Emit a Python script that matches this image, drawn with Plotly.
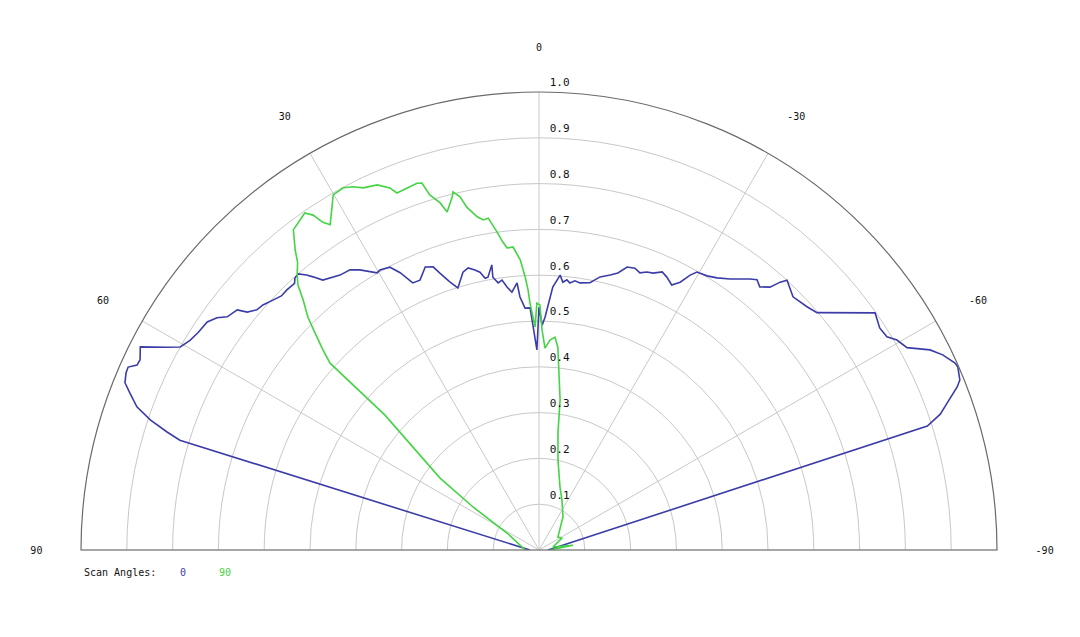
import plotly.graph_objects as go

# Scan angle 0 (blue)
theta_0 = [-90, -72.3, -71.3, -70.2, -68.7, -68.0, -66.4, -65.8, -64.2, -62.9, -61.2, -59.6, -58.5,
           -56.9, -54.8, -49.5, -47.7, -45.1, -42.6, -42.0, -41.3, -40.0, -38.9, -37.9, -35.2,
           -33.2, -31.5, -29.6, -28.8, -27.8, -26.6, -25.1, -23.9, -22.4, -21.2, -20.0, -18.8,
           -17.3, -15.9, -14.5, -12.6, -10.8, -8.7, -7.6, -6.6, -5.9, -5.1, -4.4, -3.0, -1.5,
           -0.8, 0.0, 0.6, 2.1, 3.3, 4.3, 4.7, 6.0, 6.9, 7.8, 8.7, 9.6, 9.4, 10.6, 11.2, 12.0,
           12.9, 14.1, 15.3, 17.2, 18.4, 19.7, 20.5, 21.9, 23.8, 25.3, 26.6, 27.8, 29.6, 30.3,
           32.6, 34.0, 35.9, 38.7, 39.6, 40.2, 41.1, 41.9, 42.5, 44.1, 45.4, 46.8, 48.4, 49.6,
           50.8, 51.5, 53.2, 54.2, 55.5, 57.5, 59.0, 60.5, 61.4, 63.0, 64.5, 65.3, 66.0, 66.8,
           68.0, 69.0, 70.4, 71.5, 72.4, 73.0, 90]
r_0 = [0.02, 0.89, 0.925, 0.947, 0.980, 0.991, 0.998, 0.996, 0.979, 0.959, 0.917, 0.906, 0.891,
       0.888, 0.898, 0.798, 0.790, 0.783, 0.800, 0.787, 0.764, 0.750, 0.758, 0.750, 0.724,
       0.710, 0.702, 0.698, 0.685, 0.661, 0.647, 0.658, 0.664, 0.654, 0.651, 0.644, 0.650,
       0.647, 0.629, 0.620, 0.611, 0.594, 0.590, 0.593, 0.587, 0.593, 0.587, 0.602, 0.575, 0.509,
       0.491, 0.530, 0.437, 0.529, 0.529, 0.554, 0.585, 0.566, 0.578, 0.595, 0.590, 0.604, 0.631,
       0.606, 0.605, 0.620, 0.627, 0.635, 0.629, 0.599, 0.617, 0.642, 0.660, 0.666, 0.644, 0.645,
       0.677, 0.698, 0.703, 0.701, 0.726, 0.738, 0.741, 0.755, 0.774, 0.786, 0.800, 0.798, 0.790,
       0.791, 0.790, 0.797, 0.806, 0.809, 0.822, 0.842, 0.850, 0.867, 0.879, 0.883, 0.889, 0.900,
       0.925, 0.977, 0.965, 0.966, 0.982, 0.981, 0.975, 0.957, 0.932, 0.895, 0.852, 0.820, 0.02]

# Scan angle 90 (green)
theta_90 = [90, 62.0, 56.9, 54.0, 48.8, 48.2, 47.2, 45.9, 44.8, 43.3, 42.3, 41.3, 40.0, 39.1, 37.5,
            34.8, 34.0, 33.4, 32.7, 31.1, 30.1, 28.4, 27.1, 25.9, 23.9, 22.4, 21.7, 20.0, 18.4,
            17.7, 17.1, 15.9, 15.2, 13.8, 13.5, 12.6, 11.9, 10.5, 9.6, 8.7, 7.5, 6.7, 6.0, 4.9,
            3.7, 2.9, 2.4, 2.1, 1.0, 0.5, -0.2, -0.8, -1.7, -3.0, -4.3, -5.3, -8.0, -9.2, -11.9,
            -18.4, -24.7, -36.0, -55.6, -62.4, -78.0, -82.0, -90]
r_90 = [0.03, 0.079, 0.172, 0.267, 0.447, 0.612, 0.643, 0.681, 0.716, 0.751, 0.782, 0.800, 0.820,
        0.844, 0.881, 0.896, 0.882, 0.857, 0.844, 0.875, 0.896, 0.899, 0.891, 0.879, 0.872, 0.855,
        0.839, 0.841, 0.844, 0.841, 0.811, 0.788, 0.765, 0.794, 0.804, 0.790, 0.765, 0.740, 0.731,
        0.733, 0.700, 0.677, 0.663, 0.664, 0.635, 0.597, 0.568, 0.540, 0.487, 0.539, 0.535, 0.480,
        0.441, 0.459, 0.466, 0.445, 0.331, 0.259, 0.201, 0.145, 0.120, 0.089, 0.050, 0.057, 0.031,
        0.075, 0.024]

angle_ticks = [-90, -60, -30, 0, 30, 60, 90]
angle_labels = ["-90", "-60", "-30", "0", "30", "60", "90"]
radial_ticks = [0.1, 0.2, 0.3, 0.4, 0.5, 0.6, 0.7, 0.8, 0.9, 1.0]
radial_labels = ["0.1", "0.2", "0.3", "0.4", "0.5", "0.6", "0.7", "0.8", "0.9", "1.0"]
legend_title = "Scan Angles:"
series_names = ["0", "90"]
series_colors = ["#3c3ca8", "#44d444"]

OFF = 8  # default page body margin
W, H = 1080, 637
LABEL_LIFT = 0.02  # radial labels sit slightly above their circles


def px(x):
    return (x - OFF) / W


def py(y):
    return (H - (y - OFF)) / H


fig = go.Figure()
fig.add_trace(go.Scatterpolar(theta=theta_0, r=r_0, mode="lines", name=series_names[0],
                              line=dict(color=series_colors[0], width=1.6)))
fig.add_trace(go.Scatterpolar(theta=theta_90, r=r_90, mode="lines", name=series_names[1],
                              line=dict(color=series_colors[1], width=1.6)))
# invisible trace to instantiate the label layer (polar2)
fig.add_trace(go.Scatterpolar(theta=[0], r=[0], mode="lines", subplot="polar2",
                              line=dict(color="rgba(0,0,0,0)"), hoverinfo="skip"))

mono = "DejaVu Sans Mono"
R_PX = 458
pad = R_PX * LABEL_LIFT
fig.update_layout(
    width=W, height=H,
    margin=dict(l=0, r=0, t=0, b=0),
    paper_bgcolor="white",
    showlegend=False,
    polar=dict(
        domain=dict(x=[px(81), px(997)], y=[py(550), py(92)]),
        sector=[0, 180],
        bgcolor="white",
        angularaxis=dict(
            rotation=90, direction="counterclockwise",
            tickmode="array", tickvals=angle_ticks, ticktext=angle_labels,
            showline=True, linecolor="#6a6a6a", linewidth=1.2,
            gridcolor="#c8c8c8", gridwidth=1,
            ticks="outside", ticklen=36, tickcolor="rgba(0,0,0,0)",
            tickfont=dict(family=mono, size=10, color="#111"),
        ),
        radialaxis=dict(
            range=[0, 1], angle=90,
            tickmode="array", tickvals=radial_ticks,
            showline=False, gridcolor="#c8c8c8", gridwidth=1,
            ticks="", showticklabels=False,
        ),
    ),
    polar2=dict(
        domain=dict(x=[px(81 - pad), px(997 + pad)], y=[py(550), py(92 - pad)]),
        sector=[0, 180],
        bgcolor="rgba(0,0,0,0)",
        angularaxis=dict(visible=False, rotation=90, direction="counterclockwise"),
        radialaxis=dict(
            range=[0, 1 + LABEL_LIFT], angle=90, side="clockwise",
            tickmode="array", tickvals=[t + LABEL_LIFT for t in radial_ticks], ticktext=radial_labels,
            showline=False, showgrid=False,
            ticks="outside", ticklen=8, tickcolor="rgba(0,0,0,0)",
            tickfont=dict(family=mono, size=11, color="#111"),
            tickangle=90,
        ),
    ),
)

fig.add_annotation(text=legend_title, x=px(82), y=py(572), xref="paper", yref="paper",
                   xanchor="left", yanchor="middle", showarrow=False,
                   font=dict(family=mono, size=10, color="#111"))
fig.add_annotation(text=series_names[0], x=px(183), y=py(572), xref="paper", yref="paper",
                   xanchor="center", yanchor="middle", showarrow=False,
                   font=dict(family=mono, size=10, color=series_colors[0]))
fig.add_annotation(text=series_names[1], x=px(225), y=py(572), xref="paper", yref="paper",
                   xanchor="center", yanchor="middle", showarrow=False,
                   font=dict(family=mono, size=10, color=series_colors[1]))

fig.write_html("out.html")
